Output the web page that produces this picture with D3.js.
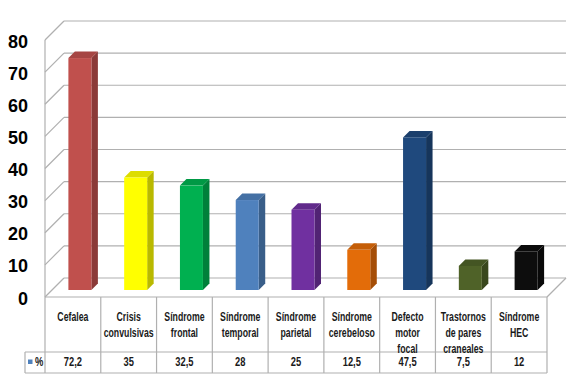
<!DOCTYPE html>
<html>
<head>
<meta charset="utf-8">
<script src="https://cdn.jsdelivr.net/npm/d3@7"></script>
<style>
  html, body { margin: 0; padding: 0; background: #fff; }
  svg { display: block; }
</style>
</head>
<body>
<svg id="chart" width="577" height="380"></svg>
<script>
// ---- data ----
const categories = ["Cefalea", "Crisis convulsivas", "Síndrome frontal", "Síndrome temporal",
  "Síndrome parietal", "Síndrome cerebeloso", "Defecto motor focal", "Trastornos de pares craneales", "Síndrome HEC"];
const categoryLines = [["Cefalea"], ["Crisis", "convulsivas"], ["Síndrome", "frontal"], ["Síndrome", "temporal"],
  ["Síndrome", "parietal"], ["Síndrome", "cerebeloso"], ["Defecto", "motor", "focal"], ["Trastornos", "de pares", "craneales"], ["Síndrome", "HEC"]];
const values = [72.2, 35, 32.5, 28, 25, 12.5, 47.5, 7.5, 12];
const barColors = ["#C0504D", "#FFFF00", "#00B050", "#4F81BD", "#7030A0", "#E36C09", "#1F497D", "#4F6228", "#0D0D0D"];
const yTicks = [0, 10, 20, 30, 40, 50, 60, 70, 80];
const seriesName = "%";
const seriesColor = "#4F81BD";

// ---- layout ----
const svg = d3.select("#chart");
const left = 45, right = 547, floorY = 297;
const depth = 19;           // 3D depth of plot box
const d1 = 7, d2 = 13.5;    // bar depth range
const barW = 23;
const tableMid = 352, tableBottom = 373, legendLeft = 25;

const x = d3.scaleBand().domain(categories).range([left, right]).padding(0);
const y = d3.scaleLinear().domain([0, 80]).range([floorY, 40]);
const gridColor = "#B0B0B0";
const fmt = d3.formatLocale({decimal: ",", thousands: ".", grouping: [3], currency: ["", ""]}).format("~f");

// back wall gridlines
const g = svg.append("g");
g.selectAll("line.grid").data(yTicks).join("line")
  .attr("x1", left + depth).attr("x2", right + depth)
  .attr("y1", d => y(d) - depth).attr("y2", d => y(d) - depth)
  .attr("stroke", gridColor).attr("stroke-width", 1.2);
// side wall diagonals
g.selectAll("line.diag").data(yTicks).join("line")
  .attr("x1", left).attr("x2", left + depth)
  .attr("y1", d => y(d)).attr("y2", d => y(d) - depth)
  .attr("stroke", gridColor).attr("stroke-width", 1.2);
// left front vertical edge
g.append("line").attr("x1", left).attr("x2", left).attr("y1", y(80)).attr("y2", floorY)
  .attr("stroke", gridColor).attr("stroke-width", 1.2);
// floor right diagonal
g.append("line").attr("x1", right).attr("x2", right + depth).attr("y1", floorY).attr("y2", floorY - depth)
  .attr("stroke", gridColor).attr("stroke-width", 1.2);

// y labels
svg.append("g").selectAll("text").data(yTicks).join("text")
  .attr("x", 28).attr("y", d => y(d) + 1.5)
  .attr("text-anchor", "end").attr("dominant-baseline", "central")
  .attr("font-family", "'Liberation Sans', Arial, sans-serif").attr("font-weight", "bold")
  .attr("font-size", 18).attr("fill", "#000")
  .text(d => d);

// bars
const bars = svg.append("g").selectAll("g").data(values.map((v, i) => ({v, i, c: categories[i]}))).join("g");
function bx(d) { return x(d.c) + x.bandwidth() / 2 - barW / 2; }
// side faces
bars.append("polygon").attr("points", d => {
  const xr = bx(d) + barW, yt = y(d.v), yb = y(0);
  return [[xr + d1, yt - d1], [xr + d2, yt - d2], [xr + d2, yb - d2], [xr + d1, yb - d1]].join(" ");
}).attr("fill", d => d3.color(barColors[d.i]).darker(0.9));
// top faces
bars.append("polygon").attr("points", d => {
  const xl = bx(d), xr = xl + barW, yt = y(d.v);
  return [[xl + d1, yt - d1], [xl + d2, yt - d2], [xr + d2, yt - d2], [xr + d1, yt - d1]].join(" ");
}).attr("fill", d => d3.color(barColors[d.i]).darker(0.4));
// front faces
bars.append("rect")
  .attr("x", d => bx(d) + d1).attr("y", d => y(d.v) - d1)
  .attr("width", barW).attr("height", d => y(0) - y(d.v))
  .attr("fill", d => barColors[d.i]);

// data table
const tcolor = "#B0B0B0";
const t = svg.append("g");
t.append("line").attr("x1", left).attr("x2", right).attr("y1", floorY).attr("y2", floorY).attr("stroke", tcolor).attr("stroke-width", 1.2);
t.append("line").attr("x1", legendLeft).attr("x2", right).attr("y1", tableMid).attr("y2", tableMid).attr("stroke", tcolor).attr("stroke-width", 1.2);
t.append("line").attr("x1", legendLeft).attr("x2", right).attr("y1", tableBottom).attr("y2", tableBottom).attr("stroke", tcolor).attr("stroke-width", 1.2);
t.append("line").attr("x1", legendLeft).attr("x2", legendLeft).attr("y1", tableMid).attr("y2", tableBottom).attr("stroke", tcolor).attr("stroke-width", 1.2);
const bounds = categories.map(c => x(c)).concat([right]);
t.selectAll("line.v").data(bounds).join("line")
  .attr("x1", d => d).attr("x2", d => d).attr("y1", floorY).attr("y2", tableBottom)
  .attr("stroke", tcolor).attr("stroke-width", 1.2);

const tableFont = "'Liberation Sans', Arial, sans-serif";
const fs = 12.5, sx = 0.7;
const labels = t.selectAll("g.cat").data(categoryLines).join("g")
  .attr("transform", (d, i) => `translate(${x(categories[i]) + x.bandwidth() / 2},0) scale(${sx},1)`);
labels.selectAll("text").data(d => d).join("text")
  .attr("x", 0).attr("y", (d, j) => 321.5 + j * 15.8)
  .attr("text-anchor", "middle")
  .attr("font-family", tableFont).attr("font-weight", "bold").attr("font-size", fs).attr("fill", "#1a1a1a")
  .text(d => d);

t.selectAll("g.val").data(values).join("g")
  .attr("transform", (d, i) => `translate(${x(categories[i]) + x.bandwidth() / 2},0) scale(${sx + 0.05},1)`)
  .append("text")
  .attr("x", 0).attr("y", 366.5).attr("text-anchor", "middle")
  .attr("font-family", tableFont).attr("font-weight", "bold").attr("font-size", fs).attr("fill", "#1a1a1a")
  .text(d => fmt(d));

// legend key
t.append("rect").attr("x", 28).attr("y", 359.5).attr("width", 4.5).attr("height", 4.5).attr("fill", seriesColor);
t.append("g").attr("transform", `translate(35,0) scale(${sx + 0.05},1)`)
  .append("text").attr("x", 0).attr("y", 366.5).attr("font-family", tableFont).attr("font-weight", "bold")
  .attr("font-size", fs).attr("fill", "#1a1a1a").text(seriesName);
</script>
</body>
</html>
